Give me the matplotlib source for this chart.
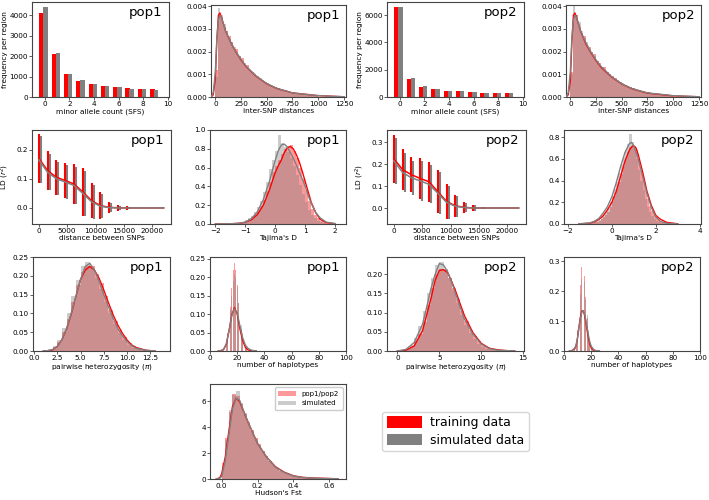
import numpy as np
import matplotlib
matplotlib.use("Agg")
import matplotlib.pyplot as plt
from matplotlib.patches import Patch
from matplotlib.ticker import FormatStrFormatter

# ---------------- DATA ----------------
# site frequency spectrum (bars)
sfs_counts = [0, 1, 2, 3, 4, 5, 6, 7, 8, 9]
sfs_pop1_train = [4100, 2100, 1130, 800, 650, 520, 480, 430, 380, 370]
sfs_pop1_sim = [4420, 2150, 1130, 820, 640, 520, 470, 410, 370, 320]
sfs_pop2_train = [6580, 1300, 760, 580, 470, 420, 360, 330, 310, 300]
sfs_pop2_sim = [6620, 1400, 780, 580, 470, 410, 360, 330, 300, 280]

# inter-SNP distances (histogram density, 25 bp bins from 0 to 1000)
snp_edges = np.arange(0, 1001, 25)
snp_pop1_train = [0.0012, 0.0036, 0.0035, 0.0031, 0.0029, 0.0027, 0.0024, 0.0021, 0.0021, 0.0018,
                  0.0017, 0.0014, 0.0014, 0.0012, 0.0011, 0.0010, 0.00093, 0.00080, 0.00072, 0.00068,
                  0.00058, 0.00055, 0.00047, 0.00044, 0.00038, 0.00036, 0.00030, 0.00029, 0.00024, 0.00023,
                  0.00019, 0.00018, 0.00015, 0.00014, 0.00012, 0.00011, 0.0001, 0.00009, 0.00008, 0.00007]
snp_pop1_sim = [0.0009, 0.0039, 0.0036, 0.0032, 0.0029, 0.0026, 0.0024, 0.0022, 0.0020, 0.0018,
                0.0016, 0.0015, 0.0013, 0.0012, 0.0011, 0.0010, 0.0009, 0.00082, 0.00074, 0.00066,
                0.0006, 0.00054, 0.00048, 0.00043, 0.00039, 0.00035, 0.00031, 0.00028, 0.00025, 0.00022,
                0.0002, 0.00018, 0.00016, 0.00014, 0.00012, 0.00011, 0.0001, 0.00009, 0.00008, 0.00007]
snp_pop2_train = [0.0011, 0.0035, 0.0036, 0.0031, 0.0028, 0.0027, 0.0023, 0.0022, 0.0020, 0.0019,
                  0.0016, 0.0015, 0.0013, 0.0013, 0.0011, 0.0010, 0.00092, 0.00082, 0.00071, 0.00067,
                  0.00059, 0.00052, 0.00049, 0.00042, 0.00039, 0.00034, 0.00031, 0.00027, 0.00025, 0.00021,
                  0.0002, 0.00017, 0.00016, 0.00013, 0.00012, 0.0001, 0.0001, 0.00009, 0.00007, 0.00006]
snp_pop2_sim = [0.0010, 0.0040, 0.0036, 0.0033, 0.0029, 0.0026, 0.0024, 0.0021, 0.0020, 0.0018,
                0.0016, 0.0014, 0.0013, 0.0012, 0.0011, 0.0010, 0.0009, 0.00080, 0.00073, 0.00066,
                0.0006, 0.00053, 0.00048, 0.00043, 0.00038, 0.00034, 0.00031, 0.00027, 0.00024, 0.00022,
                0.0002, 0.00017, 0.00015, 0.00014, 0.00012, 0.00011, 0.0001, 0.00009, 0.00008, 0.00006]
snp_kde_x = [-40, -20, 0, 15, 30, 45, 60, 80, 100, 150, 200, 250, 300, 400, 500, 600, 750, 1000, 1250]
snp_kde_pop1_train = [0, 0.0001, 0.0008, 0.0025, 0.0036, 0.0037, 0.0035, 0.0032, 0.0029, 0.0024,
                      0.00198, 0.00163, 0.00133, 0.0009, 0.00058, 0.00037, 0.00018, 0.00006, 0.00001]
snp_kde_pop1_sim = [0, 0.0002, 0.0011, 0.0026, 0.0034, 0.0036, 0.0035, 0.0032, 0.0029, 0.0024,
                    0.002, 0.00165, 0.00135, 0.00091, 0.00059, 0.00038, 0.00018, 0.00006, 0.00001]
snp_kde_pop2_train = [0, 0.0001, 0.0007, 0.0024, 0.0036, 0.0037, 0.0035, 0.0032, 0.0029, 0.00235,
                      0.00195, 0.0016, 0.0013, 0.00088, 0.00057, 0.00036, 0.00017, 0.00005, 0.00001]
snp_kde_pop2_sim = [0, 0.0002, 0.0011, 0.0026, 0.0034, 0.0036, 0.0035, 0.0032, 0.0029, 0.0024,
                    0.00198, 0.00163, 0.00134, 0.0009, 0.00058, 0.00037, 0.00018, 0.00006, 0.00001]

# linkage disequilibrium vs distance (mean +- sd)
ld_x = [0, 1550, 3100, 4650, 6200, 7750, 9300, 10850, 12400, 13950, 15500]
ld_tail_x = [17000, 22000]
ld_pop1_train_mean = [0.17, 0.128, 0.105, 0.094, 0.082, 0.055, 0.025, 0.008, 0.002, 0.0005, 0.0]
ld_pop1_train_sd = [0.084, 0.066, 0.06, 0.061, 0.067, 0.081, 0.061, 0.045, 0.019, 0.01, 0.0055]
ld_pop1_sim_mean = [0.165, 0.122, 0.1, 0.089, 0.077, 0.05, 0.021, 0.006, 0.001, 0.0, 0.0]
ld_pop1_sim_sd = [0.08, 0.062, 0.056, 0.058, 0.063, 0.078, 0.058, 0.042, 0.016, 0.008, 0.004]
ld_pop2_train_mean = [0.225, 0.175, 0.152, 0.135, 0.12, 0.075, 0.03, 0.01, 0.003, 0.0, 0.0]
ld_pop2_train_sd = [0.11, 0.094, 0.081, 0.095, 0.091, 0.099, 0.08, 0.05, 0.024, 0.015, 0.006]
ld_pop2_sim_mean = [0.215, 0.162, 0.138, 0.124, 0.108, 0.068, 0.026, 0.008, 0.002, 0.0, 0.0]
ld_pop2_sim_sd = [0.105, 0.09, 0.078, 0.09, 0.087, 0.095, 0.076, 0.047, 0.021, 0.012, 0.005]
ld_tail_mean = [0.0, 0.0]

# Tajima's D
taj1_edges = np.arange(-1.5, 2.01, 0.1)
taj1_train = [0, 0, 0, 0.01, 0.02, 0.03, 0.05, 0.07, 0.1, 0.14, 0.19, 0.26, 0.35, 0.45, 0.55, 0.62, 0.68,
              0.75, 0.8, 0.83, 0.84, 0.78, 0.7, 0.6, 0.48, 0.36, 0.25, 0.16, 0.1, 0.06, 0.03, 0.02, 0.01, 0, 0]
taj1_sim = [0, 0, 0, 0.01, 0.02, 0.04, 0.06, 0.09, 0.13, 0.18, 0.25, 0.34, 0.45, 0.58, 0.68, 0.78, 0.95,
            0.86, 0.82, 0.77, 0.7, 0.62, 0.52, 0.42, 0.32, 0.23, 0.15, 0.1, 0.06, 0.03, 0.02, 0.01, 0, 0, 0]
taj1_kde_x = [-2.0, -1.5, -1.2, -1.0, -0.8, -0.6, -0.4, -0.2, 0.0, 0.1, 0.2, 0.3, 0.4, 0.5, 0.6, 0.7,
              0.8, 0.9, 1.0, 1.1, 1.2, 1.35, 1.5, 1.7, 2.0]
taj1_kde_train = [0, 0.002, 0.008, 0.018, 0.045, 0.1, 0.2, 0.36, 0.55, 0.62, 0.68, 0.76, 0.81, 0.825, 0.8,
                  0.74, 0.66, 0.56, 0.45, 0.34, 0.23, 0.12, 0.05, 0.015, 0.002]
taj1_kde_sim = [0, 0.002, 0.008, 0.02, 0.055, 0.13, 0.26, 0.45, 0.68, 0.78, 0.84, 0.85, 0.82, 0.76, 0.7,
                0.63, 0.55, 0.48, 0.4, 0.3, 0.22, 0.12, 0.065, 0.02, 0.005]

taj2_edges = np.arange(-1.0, 3.01, 0.1)
taj2_train = [0.005, 0.01, 0.015, 0.02, 0.03, 0.045, 0.06, 0.08, 0.11, 0.16, 0.21, 0.26, 0.32, 0.39, 0.46,
              0.53, 0.6, 0.66, 0.71, 0.73, 0.72, 0.68, 0.6, 0.5, 0.4, 0.31, 0.23, 0.17, 0.12, 0.08, 0.055,
              0.04, 0.03, 0.02, 0.015, 0.01, 0.006, 0.003, 0.002, 0.001]
taj2_sim = [0.005, 0.01, 0.02, 0.03, 0.04, 0.06, 0.08, 0.11, 0.15, 0.2, 0.26, 0.32, 0.39, 0.47, 0.55, 0.62,
            0.68, 0.74, 0.83, 0.75, 0.69, 0.6, 0.5, 0.4, 0.31, 0.23, 0.16, 0.11, 0.07, 0.045, 0.03, 0.018,
            0.01, 0.006, 0.004, 0.002, 0.001, 0, 0, 0]
taj2_kde_x = [-1.5, -1.0, -0.8, -0.6, -0.4, -0.2, 0.0, 0.2, 0.4, 0.6, 0.8, 0.9, 1.0, 1.1, 1.2, 1.4, 1.6,
              1.8, 2.0, 2.2, 2.5, 3.0]
taj2_kde_train = [0.001, 0.008, 0.02, 0.04, 0.075, 0.13, 0.2, 0.3, 0.44, 0.58, 0.68, 0.71, 0.72, 0.7,
                  0.64, 0.48, 0.3, 0.17, 0.08, 0.045, 0.015, 0.002]
taj2_kde_sim = [0.001, 0.01, 0.025, 0.05, 0.1, 0.16, 0.25, 0.38, 0.53, 0.66, 0.74, 0.75, 0.72, 0.66, 0.6,
                0.44, 0.28, 0.15, 0.065, 0.025, 0.006, 0.001]

# pairwise heterozygosity (pi)
het1_edges = np.arange(1.0, 13.01, 0.5)
het1_train = [0.0, 0.003, 0.01, 0.025, 0.05, 0.085, 0.13, 0.175, 0.21, 0.225, 0.225, 0.205, 0.18, 0.145,
              0.11, 0.08, 0.057, 0.038, 0.022, 0.012, 0.007, 0.004, 0.002, 0.001]
het1_sim = [0.0, 0.004, 0.012, 0.03, 0.06, 0.1, 0.145, 0.19, 0.225, 0.238, 0.222, 0.195, 0.165, 0.13, 0.1,
            0.072, 0.048, 0.03, 0.017, 0.009, 0.004, 0.002, 0.001, 0.0]
het1_kde_x = [1.0, 1.5, 2.0, 2.5, 3.0, 3.5, 4.0, 4.5, 5.0, 5.5, 6.0, 6.5, 7.0, 7.5, 8.0, 8.5, 9.0, 9.5,
              10.0, 10.5, 11.0, 12.0, 13.0]
het1_kde_train = [0, 0, 0.003, 0.012, 0.03, 0.058, 0.098, 0.145, 0.19, 0.215, 0.225, 0.215, 0.193, 0.162,
                  0.128, 0.096, 0.069, 0.047, 0.029, 0.016, 0.009, 0.002, 0]
het1_kde_sim = [0, 0.001, 0.004, 0.011, 0.03, 0.06, 0.1, 0.145, 0.19, 0.225, 0.233, 0.215, 0.185, 0.15,
                0.117, 0.087, 0.06, 0.04, 0.025, 0.014, 0.007, 0.002, 0]

het2_edges = np.arange(0.0, 14.01, 0.5)
het2_train = [0, 0.001, 0.004, 0.01, 0.025, 0.045, 0.075, 0.12, 0.165, 0.2, 0.215, 0.21, 0.19, 0.165,
              0.135, 0.105, 0.078, 0.055, 0.038, 0.025, 0.016, 0.01, 0.006, 0.004, 0.002, 0.001, 0.001, 0.0]
het2_sim = [0, 0.002, 0.006, 0.016, 0.035, 0.065, 0.105, 0.15, 0.19, 0.225, 0.232, 0.215, 0.19, 0.16,
            0.125, 0.095, 0.068, 0.046, 0.03, 0.018, 0.01, 0.006, 0.003, 0.002, 0.001, 0, 0, 0]
het2_kde_x = [0.0, 1.0, 2.0, 3.0, 3.5, 4.0, 4.5, 5.0, 5.5, 6.0, 6.5, 7.0, 7.5, 8.0, 9.0, 10.0, 11.0,
              12.0, 13.0, 14.0]
het2_kde_train = [0, 0.002, 0.013, 0.053, 0.095, 0.136, 0.184, 0.21, 0.212, 0.204, 0.18, 0.153, 0.122,
                  0.092, 0.048, 0.02, 0.007, 0.003, 0.001, 0]
het2_kde_sim = [0, 0.004, 0.022, 0.07, 0.115, 0.162, 0.2, 0.228, 0.224, 0.206, 0.178, 0.145, 0.113,
                0.083, 0.044, 0.018, 0.006, 0.002, 0.001, 0]

# number of haplotypes (discrete)
hap1_x = list(range(10, 31))
hap1_train = [0.005, 0.01, 0.03, 0.05, 0.08, 0.12, 0.17, 0.22, 0.24, 0.22, 0.18, 0.13, 0.09, 0.06, 0.04,
              0.02, 0.01, 0.005, 0, 0, 0]
hap1_sim = [0, 0.005, 0.02, 0.04, 0.07, 0.11, 0.15, 0.19, 0.21, 0.2, 0.17, 0.13, 0.1, 0.07, 0.05, 0.03,
            0.02, 0.01, 0.006, 0.003, 0.002]
hap1_kde_x = [6, 8, 10, 12, 14, 16, 18, 20, 22, 24, 26, 28, 30, 32, 34]
hap1_kde_train = [0, 0.001, 0.004, 0.018, 0.055, 0.098, 0.118, 0.1, 0.06, 0.028, 0.01, 0.003, 0.001, 0, 0]
hap1_kde_sim = [0, 0.001, 0.005, 0.02, 0.055, 0.095, 0.115, 0.103, 0.068, 0.036, 0.016, 0.007, 0.003,
                0.001, 0]

hap2_x = list(range(8, 23))
hap2_train = [0.01, 0.03, 0.07, 0.14, 0.22, 0.28, 0.3, 0.25, 0.18, 0.11, 0.06, 0.03, 0.015, 0.005, 0]
hap2_sim = [0.01, 0.025, 0.06, 0.12, 0.19, 0.24, 0.26, 0.23, 0.17, 0.12, 0.07, 0.04, 0.02, 0.01, 0.005]
hap2_kde_x = [4, 6, 8, 9, 10, 11, 12, 13, 14, 15, 16, 17, 18, 19, 20, 22, 24, 26]
hap2_kde_train = [0, 0.001, 0.008, 0.02, 0.045, 0.08, 0.112, 0.132, 0.135, 0.122, 0.098, 0.068, 0.042,
                  0.022, 0.01, 0.002, 0, 0]
hap2_kde_sim = [0, 0.002, 0.01, 0.022, 0.045, 0.078, 0.108, 0.128, 0.135, 0.126, 0.105, 0.078, 0.052,
                0.03, 0.016, 0.004, 0.001, 0]

# Hudson's Fst
fst_edges = np.arange(0.0, 0.601, 0.02)
fst_train = [1.2, 3.2, 5.2, 6.6, 6.4, 5.8, 5.0, 4.4, 3.8, 3.2, 2.7, 2.2, 1.8, 1.4, 1.1, 0.85, 0.65, 0.5,
             0.38, 0.3, 0.22, 0.16, 0.12, 0.1, 0.08, 0.06, 0.05, 0.05, 0.04, 0.03]
fst_sim = [1.0, 3.0, 5.3, 6.5, 6.8, 5.9, 5.1, 4.3, 3.7, 3.1, 2.6, 2.2, 1.8, 1.4, 1.1, 0.85, 0.62, 0.48,
           0.35, 0.26, 0.2, 0.14, 0.1, 0.08, 0.06, 0.04, 0.03, 0.02, 0.02, 0.01]
fst_kde_x = [-0.03, -0.01, 0.0, 0.02, 0.04, 0.06, 0.08, 0.1, 0.12, 0.15, 0.2, 0.25, 0.3, 0.35, 0.4, 0.45,
             0.5, 0.55, 0.6, 0.65]
fst_kde_train = [0, 0.1, 0.4, 1.7, 3.7, 5.6, 6.25, 6.0, 5.3, 4.3, 2.75, 1.7, 0.95, 0.52, 0.25, 0.13, 0.08,
                 0.06, 0.04, 0.01]
fst_kde_sim = [0, 0.05, 0.2, 1.4, 3.4, 5.4, 6.25, 6.1, 5.35, 4.3, 2.75, 1.7, 0.9, 0.5, 0.23, 0.12, 0.07,
               0.05, 0.03, 0.01]

# ---------------- STYLE ----------------
W, H = 709, 500
TICK_FS = 5.2
LABEL_FS = 5.3
POP_FS = 9.5
SPINE_COLOR = "#444444"


def make_axes(fig, left, top, right, bottom):
    """Axes from pixel box (left, top, right, bottom)"""
    ax = fig.add_axes([left / W, 1 - bottom / H, (right - left) / W, (bottom - top) / H])
    for sp in ax.spines.values():
        sp.set_color(SPINE_COLOR)
        sp.set_linewidth(0.8)
    ax.tick_params(labelsize=TICK_FS, length=2.0, width=0.6, pad=0.8, color=SPINE_COLOR)
    return ax


def side_ylabel(ax, text, width_px, gap_px=24):
    # right edge of the rotated label sits gap_px left of the spine
    ax.set_ylabel(text, fontsize=LABEL_FS)
    ax.yaxis.set_label_coords(-gap_px / width_px, 0.5)


def pop_label(ax, name):
    ax.text(0.955, 0.955, name, transform=ax.transAxes, fontsize=POP_FS,
            ha="right", va="top")


def sfs_panel(ax, train, sim, ylim, yticks, name):
    x = np.array(sfs_counts)
    ax.bar(x - 0.25, train, width=0.4, color="red")
    ax.bar(x + 0.06, sim, width=0.36, color="gray")
    ax.set_xlim(-1.05, 10.1)
    ax.set_ylim(*ylim)
    ax.set_xticks([0, 2, 4, 6, 8, 10])
    ax.set_yticks(yticks)
    ax.set_xlabel("minor allele count (SFS)", fontsize=LABEL_FS, labelpad=1)
    side_ylabel(ax, "frequency per region", 137)
    pop_label(ax, name)


def dist_panel(ax, edges, train, sim, kde_x, kde_train, kde_sim):
    edges = np.asarray(edges)
    ax.bar(edges[:-1], train, width=np.diff(edges), align="edge", color="red", alpha=0.4,
           lw=0, zorder=1)
    ax.bar(edges[:-1], sim, width=np.diff(edges), align="edge", color="gray", alpha=0.4,
           lw=0, zorder=1)
    ax.plot(kde_x, kde_train, color="red", lw=1.0, zorder=3)
    ax.plot(kde_x, kde_sim, color="gray", lw=1.0, zorder=4)


def hap_panel(ax, xs, train, sim, kde_x, kde_train, kde_sim, ylim, yticks, name):
    ax.bar(xs, train, width=0.6, color="red", alpha=0.4, lw=0, zorder=1)
    ax.bar(xs, sim, width=0.6, color="gray", alpha=0.4, lw=0, zorder=1)
    ax.plot(kde_x, kde_train, color="red", lw=1.0, zorder=3)
    ax.plot(kde_x, kde_sim, color="gray", lw=1.0, zorder=4)
    ax.set_xlim(0, 100)
    ax.set_ylim(*ylim)
    ax.set_xticks([0, 20, 40, 60, 80, 100])
    ax.set_yticks(yticks)
    ax.set_xlabel("number of haplotypes", fontsize=LABEL_FS, labelpad=1)
    pop_label(ax, name)


def ld_panel(ax, tr_mean, tr_sd, sim_mean, sim_sd, ylim, yticks, name):
    x = np.array(ld_x)
    ax.errorbar(x + 350, sim_mean, yerr=sim_sd, fmt="none", ecolor="gray", elinewidth=1.5, zorder=1)
    ax.errorbar(x, tr_mean, yerr=tr_sd, fmt="none", ecolor="red", elinewidth=1.5, zorder=2)
    ax.plot(list(ld_x) + ld_tail_x, list(tr_mean) + ld_tail_mean, color="red", lw=1.1, zorder=3)
    ax.plot(list(ld_x) + ld_tail_x, list(sim_mean) + ld_tail_mean, color="gray", lw=1.1, zorder=3)
    ax.set_xlim(-1200, 23300)
    ax.set_ylim(*ylim)
    ax.set_xticks([0, 5000, 10000, 15000, 20000])
    ax.set_yticks(yticks)
    ax.set_xlabel("distance between SNPs", fontsize=LABEL_FS, labelpad=1)
    side_ylabel(ax, "LD ($r^2$)", 139, gap_px=21)
    pop_label(ax, name)


def main():
    fig = plt.figure(figsize=(W / 100, H / 100), dpi=100, facecolor="white")

    # ROW 1 - SFS and inter-SNP distances
    ax = make_axes(fig, 32, 2, 169, 97)
    sfs_panel(ax, sfs_pop1_train, sfs_pop1_sim, (0, 4650), [0, 1000, 2000, 3000, 4000], "pop1")
    ax = make_axes(fig, 387, 2, 524, 97)
    sfs_panel(ax, sfs_pop2_train, sfs_pop2_sim, (0, 6970), [0, 2000, 4000, 6000], "pop2")

    for left, right, tr, sim, ktr, ksim, name in [
        (211, 346, snp_pop1_train, snp_pop1_sim, snp_kde_pop1_train, snp_kde_pop1_sim, "pop1"),
        (566, 701, snp_pop2_train, snp_pop2_sim, snp_kde_pop2_train, snp_kde_pop2_sim, "pop2"),
    ]:
        ax = make_axes(fig, left, 5, right, 97)
        dist_panel(ax, snp_edges, tr, sim, snp_kde_x, ktr, ksim)
        ax.set_xlim(-42, 1270)
        ax.set_ylim(0, 0.00405)
        ax.set_xticks([0, 250, 500, 750, 1000, 1250])
        ax.set_yticks([0, 0.001, 0.002, 0.003, 0.004])
        ax.yaxis.set_major_formatter(FormatStrFormatter("%.3f"))
        ax.set_xlabel("inter-SNP distances", fontsize=LABEL_FS, labelpad=1)
        pop_label(ax, name)

    # ROW 2 - LD and Tajima's D
    ax = make_axes(fig, 32, 130, 171, 224)
    ld_panel(ax, ld_pop1_train_mean, ld_pop1_train_sd, ld_pop1_sim_mean, ld_pop1_sim_sd,
             (-0.055, 0.267), [0.0, 0.1, 0.2], "pop1")
    ax = make_axes(fig, 387, 130, 526, 224)
    ld_panel(ax, ld_pop2_train_mean, ld_pop2_train_sd, ld_pop2_sim_mean, ld_pop2_sim_sd,
             (-0.073, 0.356), [0.0, 0.1, 0.2, 0.3], "pop2")

    ax = make_axes(fig, 210, 130, 346, 224)
    dist_panel(ax, taj1_edges, taj1_train, taj1_sim, taj1_kde_x, taj1_kde_train, taj1_kde_sim)
    ax.set_xlim(-2.18, 2.36)
    ax.set_ylim(0, 1.0)
    ax.set_xticks([-2, -1, 0, 1, 2])
    ax.set_yticks([0, 0.2, 0.4, 0.6, 0.8, 1.0])
    ax.set_xlabel("Tajima's D", fontsize=LABEL_FS, labelpad=1)
    pop_label(ax, "pop1")

    ax = make_axes(fig, 564, 130, 701, 224)
    dist_panel(ax, taj2_edges, taj2_train, taj2_sim, taj2_kde_x, taj2_kde_train, taj2_kde_sim)
    ax.set_xlim(-2.18, 4.06)
    ax.set_ylim(0, 0.865)
    ax.set_xticks([-2, 0, 2, 4])
    ax.set_yticks([0, 0.2, 0.4, 0.6, 0.8])
    ax.set_xlabel("Tajima's D", fontsize=LABEL_FS, labelpad=1)
    pop_label(ax, "pop2")

    # ROW 3 - heterozygosity and haplotypes
    ax = make_axes(fig, 33, 257, 170, 351)
    dist_panel(ax, het1_edges, het1_train, het1_sim, het1_kde_x, het1_kde_train, het1_kde_sim)
    ax.set_xlim(-0.1, 14.6)
    ax.set_ylim(0, 0.25)
    ax.set_xticks([0, 2.5, 5, 7.5, 10, 12.5])
    ax.set_yticks([0, 0.05, 0.1, 0.15, 0.2, 0.25])
    ax.xaxis.set_major_formatter(FormatStrFormatter("%.1f"))
    ax.yaxis.set_major_formatter(FormatStrFormatter("%.2f"))
    ax.set_xlabel("pairwise heterozygosity ($\\pi$)", fontsize=LABEL_FS, labelpad=1)
    pop_label(ax, "pop1")

    ax = make_axes(fig, 387, 257, 524, 351)
    dist_panel(ax, het2_edges, het2_train, het2_sim, het2_kde_x, het2_kde_train, het2_kde_sim)
    ax.set_xlim(-1.24, 15.1)
    ax.set_ylim(0, 0.245)
    ax.set_xticks([0, 5, 10, 15])
    ax.set_yticks([0, 0.05, 0.1, 0.15, 0.2])
    ax.yaxis.set_major_formatter(FormatStrFormatter("%.2f"))
    ax.set_xlabel("pairwise heterozygosity ($\\pi$)", fontsize=LABEL_FS, labelpad=1)
    pop_label(ax, "pop2")

    ax = make_axes(fig, 210, 257, 346, 351)
    hap_panel(ax, hap1_x, hap1_train, hap1_sim, hap1_kde_x, hap1_kde_train, hap1_kde_sim,
              (0, 0.255), [0, 0.05, 0.1, 0.15, 0.2, 0.25], "pop1")
    ax.yaxis.set_major_formatter(FormatStrFormatter("%.2f"))
    ax = make_axes(fig, 564, 257, 700, 351)
    hap_panel(ax, hap2_x, hap2_train, hap2_sim, hap2_kde_x, hap2_kde_train, hap2_kde_sim,
              (0, 0.314), [0, 0.1, 0.2, 0.3], "pop2")

    # ROW 4 - Fst and the shared legend
    ax = make_axes(fig, 210, 384, 346, 479)
    dist_panel(ax, fst_edges, fst_train, fst_sim, fst_kde_x, fst_kde_train, fst_kde_sim)
    ax.set_xlim(-0.065, 0.693)
    ax.set_ylim(0, 7.35)
    ax.set_xticks([0, 0.2, 0.4, 0.6])
    ax.set_yticks([0, 2, 4, 6])
    ax.set_xlabel("Hudson's Fst", fontsize=LABEL_FS, labelpad=1)
    ax.legend(handles=[Patch(facecolor="red", alpha=0.4, label="pop1/pop2"),
                       Patch(facecolor="gray", alpha=0.4, label="simulated")],
              loc="upper right", fontsize=5, handlelength=2.6, borderpad=0.5,
              labelspacing=0.5, framealpha=1)

    lax = fig.add_axes([387 / W, 1 - 479 / H, 137 / W, 95 / H])
    lax.axis("off")
    lax.legend(handles=[Patch(facecolor="red", label="training data"),
                        Patch(facecolor="gray", label="simulated data")],
               loc="center", fontsize=9.0, handlelength=2.8, handleheight=1.0,
               borderpad=0.35, labelspacing=0.35, handletextpad=0.7)

    fig.savefig("out.png", dpi=100, facecolor="white")
    plt.close(fig)


if __name__ == "__main__":
    main()
